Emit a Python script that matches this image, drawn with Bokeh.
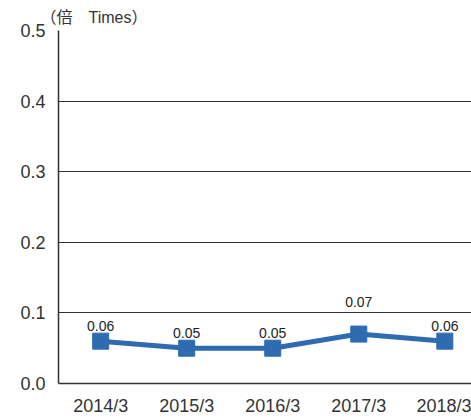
from bokeh.plotting import figure
from bokeh.models import Range1d, FixedTicker, ColumnDataSource
from bokeh.core.properties import value
from bokeh.embed import file_html
from bokeh.resources import INLINE

categories = ["2014/3", "2015/3", "2016/3", "2017/3", "2018/3"]
values = [0.06, 0.05, 0.05, 0.07, 0.06]
value_labels = ["0.06", "0.05", "0.05", "0.07", "0.06"]
y_ticks = [0.0, 0.1, 0.2, 0.3, 0.4, 0.5]
unit_label = "（倍　Times）"

BLUE = "#2e6bb0"
DARK = "#333333"
FONT = "'Liberation Sans', 'Noto Sans CJK JP'"

xs = list(range(len(categories)))
label_dy = [-32 if v == max(values) else -15 for v in values]
src = ColumnDataSource(dict(x=xs, y=values, lab=value_labels, dy=label_dy))

p = figure(width=471, height=418, output_backend="svg", toolbar_location=None,
           x_range=Range1d(-0.49, 4.31), y_range=Range1d(0, 0.5),
           min_border_left=58, min_border_right=0, min_border_top=30, min_border_bottom=35)
p.outline_line_color = None
p.background_fill_color = "white"

p.title.text = unit_label
p.title.align = "left"
p.title.offset = -18
p.title.text_font = FONT
p.title.text_font_size = "16px"
p.title.text_font_style = "normal"
p.title.text_color = DARK
p.title.standoff = 10

p.xgrid.grid_line_color = None
p.ygrid.ticker = FixedTicker(ticks=y_ticks)
p.ygrid.grid_line_color = DARK
p.ygrid.grid_line_width = 1

p.yaxis.ticker = FixedTicker(ticks=y_ticks)
p.yaxis.major_label_overrides = {t: f"{t:.1f}" for t in y_ticks}
p.yaxis.major_tick_line_color = None
p.yaxis.minor_tick_line_color = None
p.yaxis.axis_line_color = DARK
p.yaxis.axis_line_width = 1.5
p.yaxis.major_label_text_font = FONT
p.yaxis.major_label_text_font_size = "18px"
p.yaxis.major_label_text_color = DARK
p.yaxis.major_label_standoff = 7

p.xaxis.ticker = FixedTicker(ticks=xs)
p.xaxis.major_label_overrides = {i: c for i, c in enumerate(categories)}
p.xaxis.major_tick_line_color = None
p.xaxis.minor_tick_line_color = None
p.xaxis.axis_line_color = DARK
p.xaxis.axis_line_width = 1.5
p.xaxis.major_label_text_font = FONT
p.xaxis.major_label_text_font_size = "18px"
p.xaxis.major_label_text_color = DARK
p.xaxis.major_label_standoff = 6

p.line("x", "y", source=src, line_color=BLUE, line_width=5)
p.scatter("x", "y", source=src, marker="square", size=16, fill_color=BLUE, line_color=BLUE)
p.text("x", "y", text="lab", source=src, y_offset="dy", text_align="center",
       text_baseline="middle", text_font=value(FONT), text_font_size="14px",
       text_color="#222222")

open("out.html", "w").write(file_html(p, INLINE))
